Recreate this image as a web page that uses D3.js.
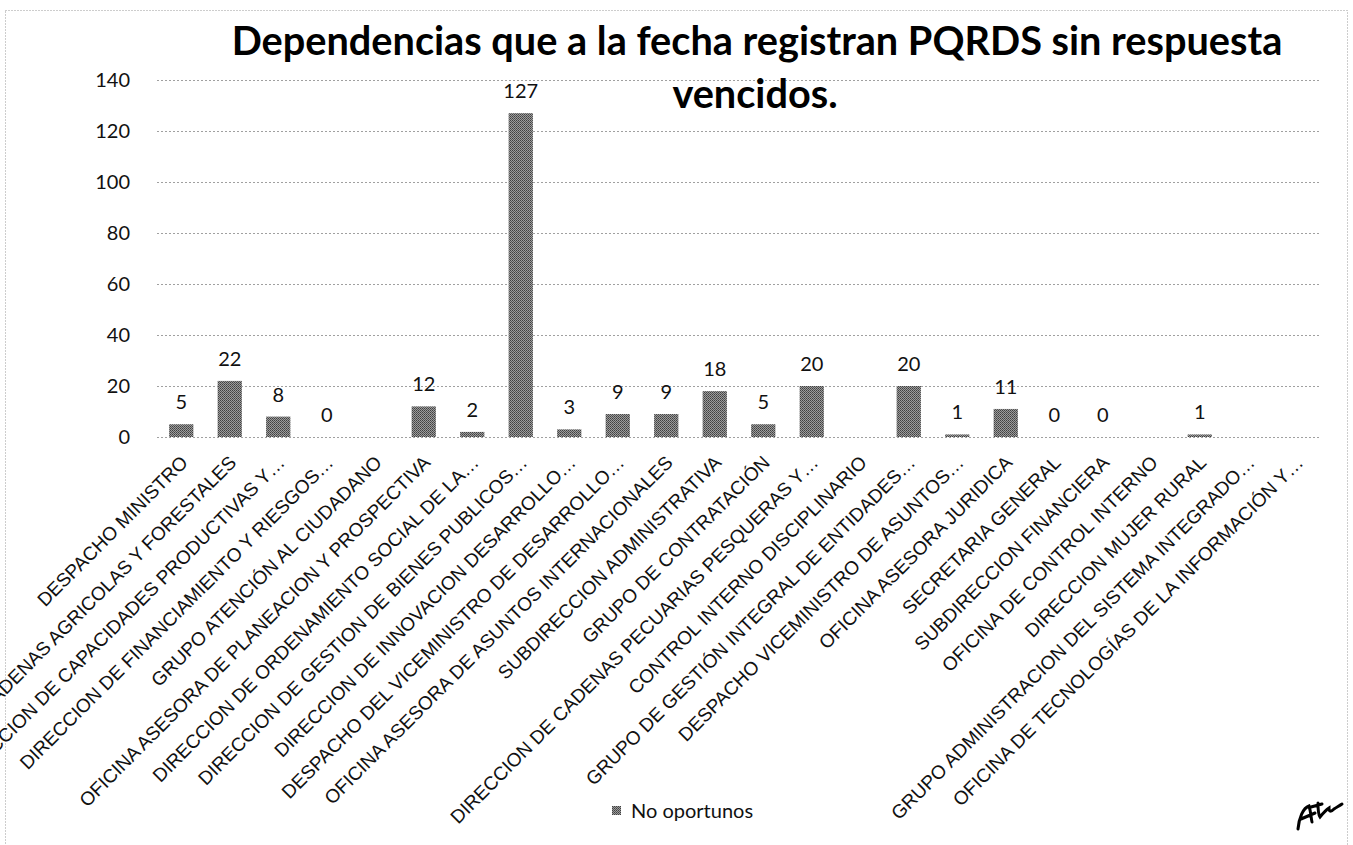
<!DOCTYPE html>
<html>
<head>
<meta charset="utf-8">
<script src="https://cdn.jsdelivr.net/npm/d3@7"></script>
<style>
  html, body { margin: 0; padding: 0; background: #fff; }
  svg { display: block; font-family: Lato, "Open Sans", sans-serif; }
</style>
</head>
<body>
<svg id="chart" width="1353" height="845"></svg>
<script>
const titleLines = ["Dependencias que a la fecha registran PQRDS sin respuesta", "vencidos."];

const dependencias = [
  "DESPACHO MINISTRO",
  "DIRECCION DE CADENAS AGRICOLAS Y FORESTALES",
  "DIRECCION DE CAPACIDADES PRODUCTIVAS Y…",
  "DIRECCION DE FINANCIAMIENTO Y RIESGOS…",
  "GRUPO ATENCIÓN  AL CIUDADANO",
  "OFICINA ASESORA DE PLANEACION Y PROSPECTIVA",
  "DIRECCION DE ORDENAMIENTO SOCIAL DE LA…",
  "DIRECCION DE GESTION DE BIENES PUBLICOS…",
  "DIRECCION DE INNOVACION DESARROLLO…",
  "DESPACHO DEL VICEMINISTRO DE DESARROLLO…",
  "OFICINA ASESORA DE ASUNTOS INTERNACIONALES",
  "SUBDIRECCION ADMINISTRATIVA",
  "GRUPO DE CONTRATACIÓN",
  "DIRECCION DE CADENAS PECUARIAS PESQUERAS Y…",
  "CONTROL INTERNO DISCIPLINARIO",
  "GRUPO DE GESTIÓN INTEGRAL DE ENTIDADES…",
  "DESPACHO VICEMINISTRO DE ASUNTOS…",
  "OFICINA ASESORA JURIDICA",
  "SECRETARIA GENERAL",
  "SUBDIRECCION FINANCIERA",
  "OFICINA DE CONTROL INTERNO",
  "DIRECCION MUJER RURAL",
  "GRUPO ADMINISTRACION DEL SISTEMA INTEGRADO…",
  "OFICINA DE TECNOLOGÍAS DE LA INFORMACIÓN Y…"
];

// null = no value shown in the original
const noOportunos = [5, 22, 8, 0, null, 12, 2, 127, 3, 9, 9, 18, 5, 20, null, 20, 1, 11, 0, 0, null, 1, null, null];

const yTicks = [0, 20, 40, 60, 80, 100, 120, 140];
const serieName = "No oportunos";

const data = dependencias.map((d, i) => ({ name: d, value: noOportunos[i] }));

const svg = d3.select("#chart");

const plot = { left: 157, right: 1321, top: 80, bottom: 437 };

const x = d3.scaleBand()
  .domain(dependencias)
  .range([plot.left, plot.right])
  .paddingInner(0.5)
  .paddingOuter(0.25);

const y = d3.scaleLinear()
  .domain([0, 140])
  .range([plot.bottom, plot.top]);

/* halftone-looking fill like the scan */
const pat = svg.append("defs").append("pattern")
  .attr("id", "dots")
  .attr("width", 2)
  .attr("height", 2)
  .attr("patternUnits", "userSpaceOnUse");
pat.append("rect").attr("width", 2).attr("height", 2).attr("fill", "#9c9c9c");
pat.append("rect").attr("width", 1).attr("height", 1).attr("fill", "#404040");
pat.append("rect").attr("x", 1).attr("y", 1).attr("width", 1).attr("height", 1).attr("fill", "#555");

/* page border (dotted, from the scan) */
svg.append("rect")
  .attr("x", 5.5)
  .attr("y", 10.5)
  .attr("width", 1342)
  .attr("height", 840)
  .attr("fill", "none")
  .attr("stroke", "#9a9a9a")
  .attr("stroke-dasharray", "1,2");

/* gridlines + y labels */
const yAxis = d3.axisLeft(y)
  .tickValues(yTicks)
  .tickSize(-(plot.right - plot.left))
  .tickPadding(27);

const gy = svg.append("g")
  .attr("transform", `translate(${plot.left},0)`)
  .call(yAxis);

gy.select(".domain").remove();
gy.selectAll(".tick line")
  .attr("stroke", "#a0a0a0")
  .attr("stroke-dasharray", "2,2");
gy.selectAll(".tick text")
  .attr("font-size", "20px")
  .attr("fill", "#111")
  .attr("font-family", "Lato, sans-serif");

/* x category labels */
const gx = svg.append("g")
  .attr("transform", `translate(0,${plot.bottom})`)
  .call(d3.axisBottom(x).tickSize(0).tickPadding(0));

gx.select(".domain").remove();
gx.selectAll(".tick text")
  .attr("font-size", "19px")
  .attr("fill", "#111")
  .attr("text-anchor", "end")
  .attr("transform", "translate(3,22) rotate(-45)")
  .attr("dy", "0.35em")
  .attr("y", 0);

/* bars */
const shown = data.filter(d => d.value !== null);

svg.selectAll("rect.bar")
  .data(shown)
  .enter()
  .append("rect")
  .attr("class", "bar")
  .attr("x", d => x(d.name))
  .attr("y", d => y(d.value))
  .attr("width", x.bandwidth())
  .attr("height", d => y(0) - y(d.value))
  .attr("fill", "url(#dots)");

svg.selectAll("text.val")
  .data(shown)
  .enter()
  .append("text")
  .attr("class", "val")
  .attr("x", d => x(d.name) + x.bandwidth() / 2)
  .attr("y", d => y(d.value) - 15)
  .attr("text-anchor", "middle")
  .attr("font-size", "20px")
  .attr("fill", "#111")
  .text(d => d.value);

/* title, scaled to the width it has in the picture */
const title = svg.append("g").attr("font-weight", "700").attr("fill", "#000");
const t1 = title.append("text")
  .attr("x", 757)
  .attr("y", 55)
  .attr("text-anchor", "middle")
  .attr("font-size", "36px")
  .text(titleLines[0]);
const fs = 36 * 1051 / t1.node().getComputedTextLength();
t1.attr("font-size", fs + "px");
title.append("text")
  .attr("x", 755)
  .attr("y", 108)
  .attr("text-anchor", "middle")
  .attr("font-size", fs + "px")
  .text(titleLines[1]);

/* legend */
const legend = svg.append("g").attr("transform", "translate(612,806)");
legend.append("rect")
  .attr("width", 9)
  .attr("height", 9)
  .attr("fill", "url(#dots)");
legend.append("text")
  .attr("x", 19)
  .attr("y", 12)
  .attr("font-size", "20px")
  .attr("fill", "#111")
  .text(serieName);

/* handwritten initials in the corner */
svg.append("path")
  .attr("d", "M1298,829 C1299,818 1303,808 1309,806 C1311,812 1311,818 1312,822 M1301,819 L1315,813 M1311,807 L1322,804 M1318,803 C1318,809 1318,814 1320,817 C1324,812 1326,810 1329,808 C1329,812 1331,812 1334,809 C1337,807 1339,806 1342,804")
  .attr("fill", "none")
  .attr("stroke", "#000")
  .attr("stroke-width", 3)
  .attr("stroke-linecap", "round");
</script>
</body>
</html>
